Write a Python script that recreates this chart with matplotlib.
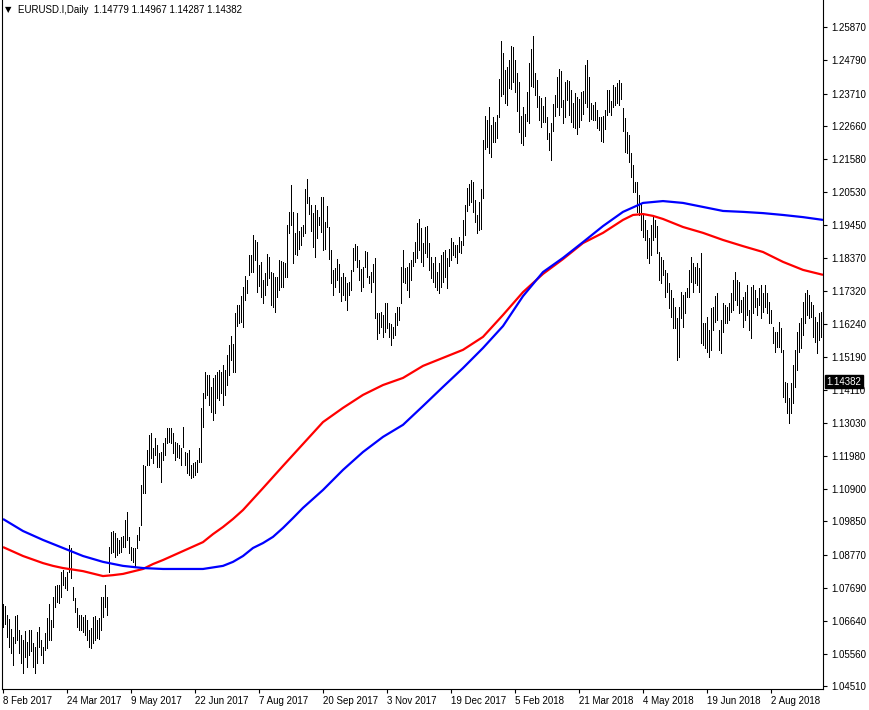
import numpy as np
import matplotlib
matplotlib.use("Agg")
import matplotlib.pyplot as plt
from matplotlib.transforms import blended_transform_factory

# Daily EURUSD bars (high / low), one value per bar, left to right
highs = [
    1.0718, 1.0711, 1.0682, 1.0669, 1.0637, 1.0611, 1.0679, 1.0682, 1.0633, 1.0617,
    1.0601, 1.0630, 1.0594, 1.0633, 1.0633, 1.0591, 1.0578, 1.0627, 1.0643, 1.0601,
    1.0578, 1.0624, 1.0672, 1.0718, 1.0666, 1.0740, 1.0776, 1.0779, 1.0779, 1.0821,
    1.0828, 1.0805, 1.0821, 1.0909, 1.0899, 1.0773, 1.0737, 1.0705, 1.0682, 1.0682,
    1.0676, 1.0682, 1.0666, 1.0633, 1.0640, 1.0676, 1.0679, 1.0666, 1.0672, 1.0740,
    1.0740, 1.0779, 1.0740, 1.0902, 1.0951, 1.0954, 1.0948, 1.0931, 1.0925, 1.0935,
    1.0938, 1.0990, 1.1016, 1.0935, 1.0902, 1.0899, 1.0899, 1.0941, 1.0967, 1.1103,
    1.1168, 1.1165, 1.1217, 1.1265, 1.1272, 1.1223, 1.1255, 1.1233, 1.1207, 1.1210,
    1.1239, 1.1255, 1.1288, 1.1288, 1.1288, 1.1272, 1.1242, 1.1239, 1.1233, 1.1223,
    1.1291, 1.1210, 1.1207, 1.1217, 1.1168, 1.1174, 1.1178, 1.1184, 1.1223, 1.1353,
    1.1401, 1.1469, 1.1459, 1.1459, 1.1421, 1.1450, 1.1459, 1.1469, 1.1476, 1.1469,
    1.1492, 1.1476, 1.1524, 1.1557, 1.1586, 1.1560, 1.1660, 1.1686, 1.1686, 1.1715,
    1.1745, 1.1780, 1.1767, 1.1848, 1.1848, 1.1913, 1.1897, 1.1890, 1.1816, 1.1826,
    1.1767, 1.1790, 1.1852, 1.1842, 1.1793, 1.1790, 1.1777, 1.1777, 1.1832, 1.1829,
    1.1826, 1.1822, 1.1945, 1.1988, 1.2075, 1.1988, 1.1919, 1.1984, 1.1926, 1.1939,
    1.1945, 1.2062, 1.2095, 1.2036, 1.2010, 1.1984, 1.2010, 1.1994, 1.1971, 1.2036,
    1.2036, 1.1955, 1.2007, 1.1939, 1.1865, 1.1800, 1.1806, 1.1835, 1.1819, 1.1777,
    1.1790, 1.1777, 1.1758, 1.1761, 1.1800, 1.1871, 1.1884, 1.1877, 1.1832, 1.1803,
    1.1809, 1.1861, 1.1858, 1.1780, 1.1793, 1.1819, 1.1839, 1.1660, 1.1660, 1.1664,
    1.1654, 1.1693, 1.1693, 1.1628, 1.1625, 1.1615, 1.1660, 1.1680, 1.1680, 1.1809,
    1.1865, 1.1806, 1.1809, 1.1822, 1.1832, 1.1858, 1.1890, 1.1952, 1.1965, 1.1936,
    1.1887, 1.1939, 1.1942, 1.1887, 1.1842, 1.1822, 1.1842, 1.1793, 1.1822, 1.1848,
    1.1858, 1.1865, 1.1839, 1.1868, 1.1903, 1.1890, 1.1881, 1.1881, 1.1907, 1.1894,
    1.1962, 1.2010, 1.2065, 1.2078, 1.2091, 1.2085, 1.2027, 1.1978, 1.2020, 1.2062,
    1.2221, 1.2299, 1.2286, 1.2328, 1.2270, 1.2295, 1.2279, 1.2302, 1.2419, 1.2542,
    1.2503, 1.2448, 1.2458, 1.2480, 1.2525, 1.2522, 1.2480, 1.2438, 1.2409, 1.2299,
    1.2328, 1.2305, 1.2376, 1.2470, 1.2516, 1.2558, 1.2438, 1.2415, 1.2363, 1.2357,
    1.2331, 1.2360, 1.2295, 1.2244, 1.2276, 1.2338, 1.2367, 1.2425, 1.2451, 1.2444,
    1.2351, 1.2409, 1.2415, 1.2412, 1.2383, 1.2341, 1.2373, 1.2360, 1.2354, 1.2376,
    1.2380, 1.2464, 1.2480, 1.2425, 1.2341, 1.2334, 1.2344, 1.2318, 1.2295, 1.2295,
    1.2299, 1.2318, 1.2383, 1.2383, 1.2347, 1.2399, 1.2393, 1.2406, 1.2415, 1.2406,
    1.2325, 1.2292, 1.2247, 1.2237, 1.2179, 1.2140, 1.2085, 1.2085, 1.2043, 1.2017,
    1.1978, 1.1962, 1.1929, 1.1903, 1.1945, 1.1978, 1.1962, 1.1942, 1.1858, 1.1842,
    1.1832, 1.1800, 1.1790, 1.1758, 1.1735, 1.1709, 1.1680, 1.1644, 1.1680, 1.1728,
    1.1719, 1.1728, 1.1741, 1.1800, 1.1842, 1.1822, 1.1809, 1.1822, 1.1806, 1.1855,
    1.1628, 1.1628, 1.1647, 1.1605, 1.1677, 1.1680, 1.1715, 1.1725, 1.1605, 1.1638,
    1.1693, 1.1686, 1.1680, 1.1693, 1.1725, 1.1767, 1.1793, 1.1767, 1.1761, 1.1703,
    1.1712, 1.1728, 1.1751, 1.1670, 1.1745, 1.1751, 1.1735, 1.1709, 1.1741, 1.1751,
    1.1725, 1.1751, 1.1725, 1.1696, 1.1670, 1.1615, 1.1599, 1.1599, 1.1631, 1.1612,
    1.1540, 1.1437, 1.1434, 1.1385, 1.1434, 1.1492, 1.1540, 1.1599, 1.1628, 1.1644,
    1.1696, 1.1725, 1.1735, 1.1719, 1.1696, 1.1686, 1.1647, 1.1631, 1.1660, 1.1664, 1.1654,
]
lows = [
    1.0643, 1.0653, 1.0611, 1.0578, 1.0559, 1.0520, 1.0591, 1.0601, 1.0559, 1.0526,
    1.0494, 1.0546, 1.0513, 1.0552, 1.0565, 1.0513, 1.0494, 1.0526, 1.0578, 1.0552,
    1.0526, 1.0568, 1.0575, 1.0601, 1.0601, 1.0643, 1.0708, 1.0724, 1.0721, 1.0740,
    1.0779, 1.0769, 1.0763, 1.0821, 1.0802, 1.0731, 1.0692, 1.0643, 1.0633, 1.0633,
    1.0627, 1.0617, 1.0601, 1.0578, 1.0575, 1.0591, 1.0601, 1.0607, 1.0604, 1.0633,
    1.0676, 1.0708, 1.0682, 1.0821, 1.0882, 1.0886, 1.0870, 1.0876, 1.0882, 1.0886,
    1.0902, 1.0902, 1.0925, 1.0882, 1.0860, 1.0854, 1.0837, 1.0899, 1.0925, 1.0974,
    1.1077, 1.1077, 1.1168, 1.1168, 1.1191, 1.1174, 1.1200, 1.1161, 1.1161, 1.1113,
    1.1184, 1.1200, 1.1239, 1.1242, 1.1239, 1.1207, 1.1184, 1.1194, 1.1191, 1.1168,
    1.1226, 1.1168, 1.1142, 1.1136, 1.1126, 1.1129, 1.1136, 1.1145, 1.1178, 1.1178,
    1.1291, 1.1385, 1.1395, 1.1362, 1.1340, 1.1314, 1.1336, 1.1385, 1.1379, 1.1401,
    1.1362, 1.1395, 1.1427, 1.1459, 1.1508, 1.1469, 1.1469, 1.1618, 1.1628, 1.1631,
    1.1615, 1.1702, 1.1725, 1.1784, 1.1793, 1.1793, 1.1832, 1.1729, 1.1748, 1.1712,
    1.1693, 1.1719, 1.1751, 1.1774, 1.1686, 1.1680, 1.1664, 1.1712, 1.1735, 1.1745,
    1.1745, 1.1777, 1.1777, 1.1919, 1.1945, 1.1822, 1.1852, 1.1848, 1.1868, 1.1881,
    1.1910, 1.1919, 1.2017, 1.1981, 1.1926, 1.1874, 1.1842, 1.1903, 1.1945, 1.1923,
    1.1865, 1.1868, 1.1939, 1.1835, 1.1758, 1.1719, 1.1745, 1.1767, 1.1728, 1.1699,
    1.1719, 1.1703, 1.1670, 1.1719, 1.1735, 1.1796, 1.1832, 1.1809, 1.1767, 1.1732,
    1.1745, 1.1809, 1.1777, 1.1758, 1.1728, 1.1761, 1.1644, 1.1576, 1.1596, 1.1615,
    1.1583, 1.1599, 1.1612, 1.1583, 1.1557, 1.1579, 1.1589, 1.1622, 1.1638, 1.1693,
    1.1761, 1.1758, 1.1735, 1.1712, 1.1767, 1.1813, 1.1826, 1.1839, 1.1865, 1.1826,
    1.1813, 1.1855, 1.1842, 1.1800, 1.1774, 1.1761, 1.1745, 1.1735, 1.1725, 1.1745,
    1.1761, 1.1777, 1.1741, 1.1813, 1.1832, 1.1848, 1.1842, 1.1822, 1.1858, 1.1855,
    1.1881, 1.1913, 1.1991, 1.2010, 1.2020, 1.1988, 1.1955, 1.1920, 1.1929, 1.1933,
    1.2033, 1.2192, 1.2198, 1.2179, 1.2166, 1.2214, 1.2214, 1.2227, 1.2295, 1.2364,
    1.2370, 1.2341, 1.2334, 1.2389, 1.2386, 1.2409, 1.2376, 1.2315, 1.2247, 1.2211,
    1.2205, 1.2234, 1.2283, 1.2276, 1.2396, 1.2393, 1.2367, 1.2328, 1.2286, 1.2263,
    1.2279, 1.2279, 1.2224, 1.2188, 1.2156, 1.2250, 1.2299, 1.2328, 1.2302, 1.2328,
    1.2276, 1.2295, 1.2351, 1.2302, 1.2279, 1.2263, 1.2260, 1.2240, 1.2263, 1.2286,
    1.2305, 1.2341, 1.2328, 1.2283, 1.2289, 1.2286, 1.2286, 1.2260, 1.2253, 1.2218,
    1.2214, 1.2256, 1.2302, 1.2312, 1.2302, 1.2328, 1.2334, 1.2341, 1.2334, 1.2354,
    1.2250, 1.2182, 1.2179, 1.2150, 1.2101, 1.2052, 1.2052, 1.1988, 1.1978, 1.1929,
    1.1907, 1.1897, 1.1839, 1.1822, 1.1848, 1.1897, 1.1907, 1.1855, 1.1767, 1.1758,
    1.1784, 1.1712, 1.1729, 1.1677, 1.1647, 1.1612, 1.1612, 1.1508, 1.1518, 1.1644,
    1.1615, 1.1660, 1.1712, 1.1712, 1.1761, 1.1728, 1.1758, 1.1751, 1.1728, 1.1563,
    1.1557, 1.1547, 1.1534, 1.1518, 1.1540, 1.1605, 1.1631, 1.1638, 1.1540, 1.1531,
    1.1599, 1.1628, 1.1628, 1.1638, 1.1664, 1.1670, 1.1703, 1.1686, 1.1660, 1.1664,
    1.1615, 1.1638, 1.1654, 1.1605, 1.1579, 1.1660, 1.1680, 1.1654, 1.1686, 1.1644,
    1.1664, 1.1680, 1.1660, 1.1628, 1.1628, 1.1563, 1.1534, 1.1550, 1.1550, 1.1534,
    1.1388, 1.1372, 1.1336, 1.1304, 1.1336, 1.1369, 1.1421, 1.1476, 1.1534, 1.1547,
    1.1589, 1.1628, 1.1654, 1.1644, 1.1647, 1.1583, 1.1566, 1.1531, 1.1573, 1.1583, 1.1534,
]

# moving averages at a few bars
blue_bars = [0, 10, 20, 30, 40, 50, 60, 70, 80, 90, 100, 110, 115, 120, 125, 130, 135,
             140, 145, 150, 160, 170, 180, 190, 200, 210, 220, 230, 240, 250, 260, 270,
             280, 290, 300, 310, 320, 330, 340, 350, 360, 370, 380, 390, 400, 410]
blue_ma = [1.0993, 1.0954, 1.0925, 1.0899, 1.0873, 1.0854, 1.0841, 1.0834, 1.0831, 1.0831,
           1.0831, 1.0841, 1.0854, 1.0873, 1.0899, 1.0915, 1.0935, 1.0964, 1.0996, 1.1029,
           1.1087, 1.1152, 1.1210, 1.1259, 1.1298, 1.1359, 1.1421, 1.1482, 1.1547, 1.1618,
           1.1715, 1.1793, 1.1839, 1.1890, 1.1942, 1.1988, 1.2017, 1.2023, 1.2017, 1.2004,
           1.1991, 1.1988, 1.1984, 1.1978, 1.1971, 1.1962]
red_bars = [0, 10, 20, 25, 30, 40, 50, 55, 60, 70, 75, 80, 90, 100, 105, 110, 115, 120,
            130, 140, 150, 160, 170, 180, 190, 200, 210, 220, 230, 240, 250, 260, 270,
            280, 290, 300, 310, 315, 320, 325, 330, 340, 350, 360, 370, 380, 390, 400, 410]
red_ma = [1.0902, 1.0873, 1.0850, 1.0841, 1.0834, 1.0824, 1.0808, 1.0811, 1.0815, 1.0831,
          1.0847, 1.0860, 1.0889, 1.0918, 1.0944, 1.0967, 1.0993, 1.1022, 1.1093, 1.1165,
          1.1236, 1.1307, 1.1353, 1.1395, 1.1427, 1.1450, 1.1489, 1.1515, 1.1541, 1.1583,
          1.1654, 1.1728, 1.1787, 1.1835, 1.1887, 1.1920, 1.1962, 1.1978, 1.1981, 1.1975,
          1.1965, 1.1939, 1.1920, 1.1897, 1.1877, 1.1858, 1.1826, 1.1800, 1.1784]

price_ticks = [1.25870, 1.24790, 1.23710, 1.22660, 1.21580, 1.20530, 1.19450, 1.18370,
               1.17320, 1.16240, 1.15190, 1.14110, 1.13030, 1.11980, 1.10900, 1.09850,
               1.08770, 1.07690, 1.06640, 1.05560, 1.04510]
date_bars = [0, 32, 64, 96, 128, 160, 192, 224, 256, 288, 320, 352, 384]
date_labels = ["8 Feb 2017", "24 Mar 2017", "9 May 2017", "22 Jun 2017", "7 Aug 2017",
               "20 Sep 2017", "3 Nov 2017", "19 Dec 2017", "5 Feb 2018", "21 Mar 2018",
               "4 May 2018", "19 Jun 2018", "2 Aug 2018"]
header = "EURUSD.I,Daily  1.14779 1.14967 1.14287 1.14382"
last_price = 1.14382

plt.rcParams['font.family'] = ['Liberation Sans', 'DejaVu Sans']
plt.rcParams['font.size'] = 7

W, H = 870, 710
fig = plt.figure(figsize=(W / 100, H / 100), dpi=100)
# chart area: x 2..823 px, y 0..689 px
ax = fig.add_axes([2 / W, (H - 689) / H, 821 / W, 689 / H])

n = min(len(highs), len(lows))
bars = np.arange(n)
ax.vlines(bars, lows[:n], highs[:n], colors='black', linewidth=0.72, antialiased=False)
ax.plot(red_bars, red_ma, color='#ff0000', linewidth=1.6, solid_capstyle='butt')
ax.plot(blue_bars, blue_ma, color='#0000ff', linewidth=1.6, solid_capstyle='butt')

ax.set_xlim(-0.5, 410)
ax.set_ylim(1.04421, 1.26745)

ax.spines['top'].set_visible(False)
for s in ['left', 'bottom', 'right']:
    ax.spines[s].set_linewidth(0.8)
    ax.spines[s].set_color('black')

ax.yaxis.tick_right()
ax.set_yticks(price_ticks)
ax.set_yticklabels(["%.5f" % v for v in price_ticks])
ax.tick_params(axis='y', direction='out', length=3, width=0.8, pad=3, labelsize=7)
ax.set_xticks(date_bars)
ax.set_xticklabels(date_labels, ha='left')
ax.tick_params(axis='x', direction='out', length=3, width=0.8, pad=2, labelsize=7)

# current price tag on the price scale
tr = blended_transform_factory(ax.transAxes, ax.transData)
ax.text(1.004, last_price, "%.5f" % last_price, transform=tr, color='white',
        fontsize=7, va='center', ha='left',
        bbox=dict(boxstyle='square,pad=0.15', facecolor='black', edgecolor='black'))

fig.text(5 / W, 1 - 10 / H, "\u25bc", fontsize=6, va='center', ha='left',
         family=['DejaVu Sans'])
fig.text(18 / W, 1 - 10 / H, header, fontsize=7, va='center', ha='left')

fig.savefig("out.png", dpi=100, facecolor='white')
